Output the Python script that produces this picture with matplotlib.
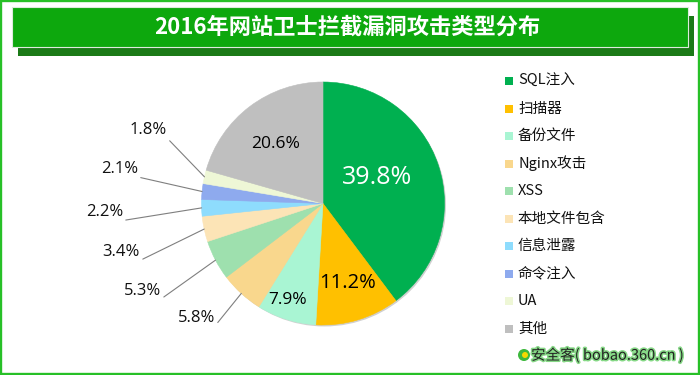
import matplotlib
matplotlib.use('Agg')
import matplotlib.pyplot as plt
import matplotlib.transforms as mtransforms
import matplotlib.patheffects as pe
from matplotlib.patches import Rectangle, Circle
import numpy as np

# ---------------- data ----------------
categories = ['SQL注入', '扫描器', '备份文件', 'Nginx攻击', 'XSS',
              '本地文件包含', '信息泄露', '命令注入', 'UA', '其他']
values = [39.8, 11.2, 7.9, 5.8, 5.3, 3.4, 2.2, 2.1, 1.8, 20.6]
colors = ['#00B050', '#FFC000', '#A9F5D3', '#F9D78D', '#9EE0AE',
          '#FCE4B6', '#8EDCFD', '#8EAAEE', '#EEF7D6', '#BFBFBF']
title = '2016年网站卫士拦截漏洞攻击类型分布'
source = '安全客( bobao.360.cn )'

# ---------------- layout ----------------
W, H = 700, 375
CX, CY, R = 323, 203.5, 121.5          # pie centre / radius in pixels (from top)

# label layout: index -> (x, y in pie units, fontsize, colour)
inside_layout = {0: (0.449, 0.210, 18, 'white'),
                 1: (0.198, -0.654, 14.5, 'black'),
                 2: (-0.292, -0.794, 12.5, 'black'),
                 9: (-0.387, 0.490, 12.5, 'black')}
outside_layout = {3: (-0.889, -0.942),
                  4: (-1.333, -0.720),
                  5: (-1.506, -0.403),
                  6: (-1.646, -0.074),
                  7: (-1.523, 0.284),
                  8: (-1.284, 0.605)}

CJK = ['Noto Sans CJK SC', 'DejaVu Sans']
NUM = ['Open Sans', 'DejaVu Sans']

fig = plt.figure(figsize=(W / 100, H / 100), dpi=100)
fig.patch.set_facecolor('white')
pxT = mtransforms.Affine2D().scale(1 / 100) + fig.dpi_scale_trans


def rect_top(x0, y0, x1, y1, **kw):
    """rectangle given in pixel coords measured from top-left"""
    return Rectangle((x0, H - y1), x1 - x0, y1 - y0, transform=pxT, **kw)


# outer frame
fig.patches.append(rect_top(1.1, 1.1, 698.6, 373.7, fill=False,
                            edgecolor='#27C027', linewidth=1.7, zorder=1))
# title banner shadow + banner
fig.patches.append(rect_top(18, 16, 694, 56, facecolor='#1B7A17',
                            edgecolor='none', zorder=1))
fig.patches.append(rect_top(12, 7, 688, 47, facecolor='#0DA80D',
                            edgecolor='#DDEBDD', linewidth=0.8, zorder=2))
fig.text(347 / W, 1 - 27 / H, title, ha='center', va='center',
         fontsize=16, fontweight='bold', color='white', family=CJK, zorder=3)

# ---------------- pie ----------------
hw, hh = 250, 170
ax = fig.add_axes([(CX - hw) / W, (H - CY - hh) / H, 2 * hw / W, 2 * hh / H])
ax.add_patch(Circle((0.012, -0.012), 1.0, facecolor='#D0D0D0',
                    edgecolor='none', zorder=0))
wedges, _ = ax.pie(values, colors=colors, startangle=90, counterclock=False,
                   radius=1, wedgeprops=dict(linewidth=0.4))
for w in wedges:
    w.set_edgecolor(w.get_facecolor())
ax.set_xlim(-hw / R, hw / R)
ax.set_ylim(-hh / R, hh / R)
ax.axis('off')

for i, (x, y, fs, col) in inside_layout.items():
    ax.text(x, y, f'{values[i]:.1f}%', ha='center', va='center',
            fontsize=fs, color=col, family=NUM, zorder=5)

for i, (x, y) in outside_layout.items():
    w = wedges[i]
    mid = np.deg2rad((w.theta1 + w.theta2) / 2)
    ax.annotate(f'{values[i]:.1f}%', xy=(np.cos(mid), np.sin(mid)),
                xytext=(x, y), ha='right', va='center', fontsize=12,
                color='#111111', family=NUM, zorder=5,
                arrowprops=dict(arrowstyle='-', color='#7F7F7F', lw=0.8,
                                shrinkA=0, shrinkB=0, relpos=(1.0, 0.0)))

# ---------------- legend ----------------
for k, (cat, col) in enumerate(zip(categories, colors)):
    yc = 81 + k * 27.5
    fig.patches.append(rect_top(505, yc - 4, 513, yc + 4, facecolor=col,
                                edgecolor='none', zorder=3))
    fig.text(518 / W, 1 - yc / H, cat, ha='left', va='center',
             fontsize=10.5, color='#111111', family=CJK, zorder=3)

# ---------------- source watermark ----------------
fig.patches.append(Circle((524, H - 355), 6, transform=pxT,
                          facecolor='#3DB83D', edgecolor='none', zorder=3))
fig.patches.append(Circle((525, H - 355), 3, transform=pxT,
                          facecolor='#F5D800', edgecolor='none', zorder=4))
fig.text(531 / W, 1 - 355 / H, source, ha='left', va='center',
         fontsize=10.5, fontweight='medium', color='#222222', family=CJK, zorder=5,
         path_effects=[pe.withStroke(linewidth=2.2, foreground='#86D886')])

fig.savefig('out.png', dpi=100, facecolor='white')
